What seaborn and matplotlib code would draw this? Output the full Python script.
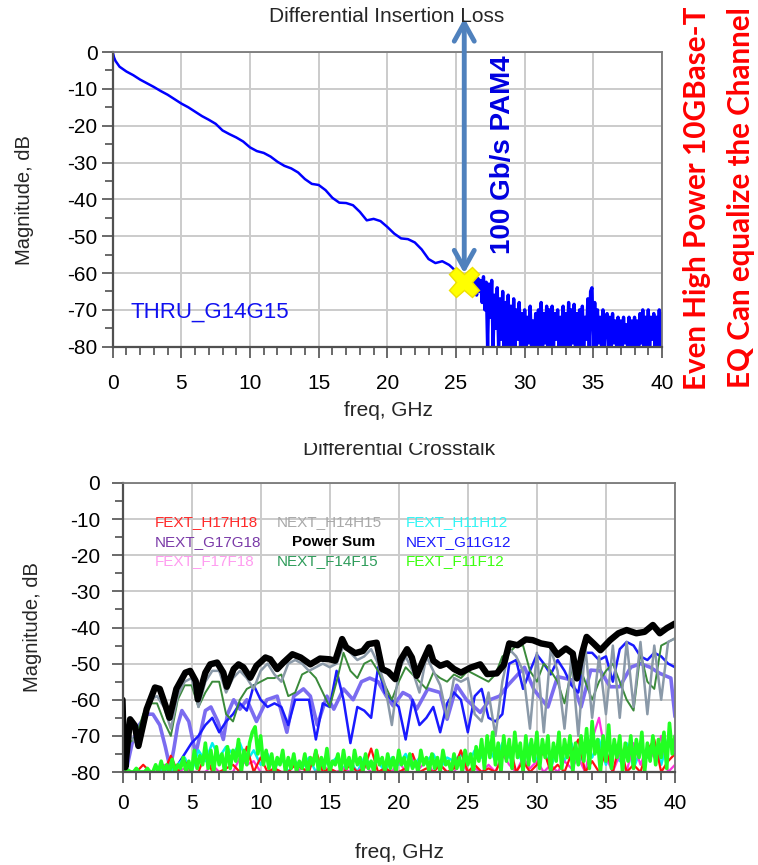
import numpy as np
import matplotlib
matplotlib.use('Agg')
import matplotlib.pyplot as plt
import seaborn as sns
from matplotlib.transforms import Bbox, TransformedBbox

# --- Data: differential insertion loss (top panel) ---
thru_freq = [0, 0.1, 0.2, 0.5, 1.0, 1.5, 2.0, 2.5, 3.0, 3.5, 4.0, 4.5, 5.0, 5.5, 6.0, 6.5,
             7.0, 7.5, 8.0, 8.5, 9.0, 9.5, 10.0, 10.5, 11.0, 11.5, 12.0, 12.5, 13.0, 13.5,
             14.0, 14.5, 15.0, 15.5, 16.0, 16.5, 17.0, 17.5, 18.0, 18.5, 19.0, 19.5, 20.0,
             20.5, 21.0, 21.5, 22.0, 22.5, 23.0, 23.5, 24.0, 24.5, 25.0, 25.5]
thru_db = [0, -1.5, -2.4, -4.0, -5.3, -6.3, -7.5, -8.5, -9.5, -10.6, -11.6, -12.8, -14.0,
           -15.0, -16.2, -17.4, -18.4, -19.5, -21.3, -22.3, -23.2, -24.3, -25.9, -26.9,
           -27.4, -28.4, -29.8, -30.9, -31.6, -32.7, -34.5, -35.8, -36.1, -37.5, -39.6,
           -40.9, -41.0, -41.6, -43.4, -45.7, -45.3, -45.9, -47.5, -49.3, -50.6, -50.8,
           -51.7, -53.6, -56.2, -57.3, -56.8, -57.8, -59.5, -61.5]
# noisy part, 26.0 .. 40.0 GHz every 0.1 GHz
thru_noise_db = [
    -61, -63, -60.5, -64, -62, -66, -61.5, -65, -62, -68,
    -61, -70, -62.5, -80, -63, -72, -62, -80, -66, -75,
    -64, -80, -67, -78, -65, -80, -68, -80, -66, -80,
    -69, -80, -67, -80, -70, -78, -68, -80, -71, -80,
    -70, -80, -72, -79, -69, -80, -73, -80, -71, -80,
    -70, -80, -68, -80, -71, -79, -69, -80, -70, -80,
    -69, -80, -71, -78, -70, -80, -72, -80, -69, -80,
    -71, -80, -68, -80, -70, -79, -68.5, -80, -71, -80,
    -70, -80, -69, -80, -72, -78, -67, -80, -65, -64,
    -80, -68, -80, -70, -79, -72, -80, -70, -80, -73,
    -71, -80, -72, -80, -71, -79, -73, -80, -72, -80,
    -73, -80, -72, -79, -74, -80, -72, -80, -73, -80,
    -72, -80, -73, -80, -71, -79, -70, -80, -72, -80,
    -70, -80, -72, -78, -71, -80, -72, -80, -70, -80,
    -71]
marker_freq = 25.6
marker_db = -62.4

# --- Data: differential crosstalk (bottom panel) ---
psum_freq = [0, 0.08, 0.2, 0.55, 0.9, 1.15, 1.75, 2.35, 2.7, 3.2, 3.4, 3.9, 4.55, 4.9, 5.3,
             5.45, 6.0, 6.35, 6.85, 7.3, 7.55, 8.05, 8.4, 8.75, 9.25, 9.7, 10.35, 10.7, 11.2,
             11.65, 12.3, 12.9, 13.6, 14.3, 15.0, 15.4, 15.9, 16.2, 16.85, 17.4, 17.8, 18.4,
             18.8, 19.25, 19.75, 20.1, 20.6, 20.95, 21.3, 21.7, 22.2, 22.5, 23.0, 23.5, 24.0,
             24.5, 25.2, 25.9, 26.4, 27.1, 27.6, 28.0, 28.6, 29.2, 29.7, 30.3, 31.0, 31.5,
             32.1, 32.6, 32.9, 33.3, 33.6, 34.1, 34.6, 35.3, 35.9, 36.5, 37.2, 37.8, 38.4,
             38.9, 39.4, 40.0]
psum_db = [-60, -72, -78.7, -65.4, -67.2, -72.8, -62.6, -56.6, -57, -62.6, -65, -57, -52.5,
           -52, -54.8, -59.9, -52.5, -50.2, -49.7, -52.5, -56.4, -51.5, -50.2, -51, -53.9,
           -50.6, -48.3, -48.8, -51.5, -49.7, -47.4, -48.3, -50.2, -48.6, -48.8, -49.2,
           -43.2, -45.5, -47.1, -46.5, -44.6, -44.2, -51.5, -52.3, -54.3, -49.2, -46, -48.3,
           -53.4, -49.7, -45.5, -49.2, -50.6, -49.9, -51.5, -52.5, -51.1, -50.2, -52.9,
           -52.7, -50.4, -44.4, -44.9, -43.3, -43.5, -44.4, -44.9, -47.6, -45.8, -47.2,
           -54.1, -46.7, -42.6, -44.4, -46.3, -43.5, -41.6, -40.7, -41.6, -41.2, -39.3,
           -41.6, -40.2, -38.9]

# NEXT traces sampled every 0.5 GHz (0 .. 40)
next_h14h15 = [-75, -70, -72, -66, -60, -59, -62, -68, -59, -55, -54, -62, -55, -52, -52, -58,
               -54, -52, -54, -57, -52, -50, -53, -55, -50, -49, -50, -52, -51, -50, -51, -50,
               -45, -47, -49, -48, -46, -50, -56, -67, -52, -48, -52, -58, -48, -52, -56, -65,
               -54, -55, -54, -64, -66, -58, -70, -55, -46, -48, -52, -68, -47, -69, -46, -52,
               -68, -48, -70, -45, -65, -48, -64, -45, -65, -44, -62, -44, -64, -45, -60, -44,
               -43]
next_f14f15 = [-80, -72, -70, -64, -61, -61, -66, -70, -60, -56, -56, -62, -58, -55, -55, -64,
               -66, -60, -57, -56, -55, -54, -54, -53, -59, -58, -53, -52, -54, -58, -62, -55,
               -47, -52, -54, -50, -49, -52, -56, -60, -55, -51, -53, -55, -57, -52.5, -54, -55,
               -53, -54, -52, -53, -54, -55, -53, -48, -47, -45, -45, -52, -55, -50, -52, -55,
               -61, -52, -50, -55, -60, -55, -52, -50, -55, -60, -63, -47, -55, -57, -45, -44,
               -43]
next_g11g12 = [-80, -80, -80, -80, -80, -80, -80, -80, -78, -75, -72, -70, -67, -65, -69, -66,
               -64, -61, -63, -56, -60, -62, -61, -62, -67, -60, -60, -60, -71, -61, -62, -52,
               -60, -72, -62, -63, -65, -51, -58, -60, -62, -71, -60, -67, -65, -62, -69, -61,
               -58, -60, -69, -59, -57, -65, -66, -64, -50, -49, -57, -52, -47.5, -50, -53, -49,
               -52, -56, -58, -47, -47, -49, -48, -55, -46, -44, -45, -48, -49, -47, -48, -50,
               -51]
next_g17g18_freq = [0.3, 0.7, 1.2, 1.8, 2.2, 2.7, 3.1, 3.45, 3.7, 4.0, 4.3, 4.8, 5.3, 5.6, 6.0,
                    6.4, 6.9, 7.3, 7.6, 8.05, 8.5, 9.0, 9.7, 10.45, 11.2, 11.9, 12.4, 13.1, 13.6,
                    14.1, 14.8, 15.3, 16.0, 16.7, 17.3, 17.9, 18.5, 19.1, 19.6, 20.3, 20.8, 21.3,
                    22.1, 23.0, 23.5, 24.2, 24.9, 25.9, 26.6, 27.3, 27.9, 29.1, 29.8, 30.8, 31.5,
                    32.5, 33.2, 33.9, 34.6, 35.3, 36.0, 36.8, 37.5, 38.2, 38.9, 39.7, 40.0]
next_g17g18_db = [-79, -72, -67, -64, -64, -67, -73, -79, -74, -67, -63, -66, -75, -70, -63, -62,
                  -66, -71, -64, -60, -62.6, -60, -66, -60, -59, -69, -59, -57, -59, -67, -59,
                  -62.6, -57, -60, -55, -54, -55, -59, -61.7, -58, -59, -62.6, -57, -58, -65.4,
                  -56, -60, -63.5, -60, -59, -56, -51, -57.3, -62, -53.6, -54.5, -62, -51.8, -52,
                  -56.4, -56.4, -51, -50, -51, -52.7, -54, -64.7]

# FEXT traces
fext_f11f12 = [  # every 0.2 GHz
    -80, -80, -79.5, -80, -80, -79, -80, -80, -80, -79, -80, -80, -78,
    -80, -77, -80, -78, -80, -76.5, -80, -78, -79, -76, -80, -77,
    -80, -74, -79, -75.5, -78, -72, -79, -74, -80, -73, -78,
    -75, -80, -73, -79, -74, -77, -71, -80, -74, -78,
    -72, -69, -67.5, -75, -70, -78, -74,
    -79, -75, -80, -76, -78, -74, -80, -76, -79, -75, -80, -77, -79,
    -75, -80, -76, -78, -74, -80, -76, -79, -73.5, -80, -77, -78, -75, -80, -74,
    -79, -76, -80, -74, -78, -76, -80, -75, -79, -77, -80, -74, -78, -76, -80, -75, -79, -76, -80, -74,
    -78, -76, -80, -75, -79, -77, -80, -74, -78, -76, -80, -75, -79, -76, -80, -74, -78, -77, -80, -75,
    -79, -76, -80, -74, -78, -75, -80, -73, -77, -71, -79, -70, -76, -69, -78,
    -72, -80, -70, -77, -71, -79, -69, -76, -72, -80, -70, -78, -71, -77, -69,
    -79, -71, -76, -70, -80, -72, -77, -69, -79, -71, -76, -70, -80, -72, -78,
    -70, -77, -68, -79, -66, -75, -71, -80, -70, -77, -67, -79, -71, -76, -70,
    -80, -72, -77, -70, -79, -71, -76, -69, -80, -72, -77, -70, -78, -71, -76, -69, -79, -66.5, -75, -70]
fext_h11h12 = [  # every 0.5 GHz
    -80, -80, -80, -80, -80, -80, -79, -80, -78, -76, -80, -74, -77, -72, -76, -73,
    -75, -72, -77, -74, -78, -75, -79, -76, -80, -77, -79, -76, -80, -77, -78, -76,
    -79, -77, -80, -76, -78, -77, -80, -76, -78, -75, -79, -76, -77, -75, -79, -76,
    -77, -75, -78, -74, -76, -73, -77, -72, -76, -73, -78, -72, -77, -74, -79, -73,
    -77, -72, -78, -74, -76, -71, -78, -73, -77, -72, -79, -74, -76, -72, -78, -71, -73]
fext_h17h18 = [
    -80, -80, -80, -78, -80, -80, -80, -75.5, -80, -77, -80, -80, -75, -80, -80, -79,
    -78, -80, -73, -80, -76, -80, -79, -80, -80, -78, -79, -80, -74, -80, -79, -80,
    -80, -78, -80, -79, -73.5, -80, -79, -80, -80, -79, -75, -80, -79, -80, -78, -80,
    -79, -74, -80, -78, -80, -79, -80, -76, -72, -80, -77, -80, -78, -74, -80, -78,
    -80, -75, -71, -80, -77, -80, -74, -80, -72, -80, -78, -80, -74, -71, -80, -77, -75]
fext_f17f18 = [
    -80, -80, -80, -80, -80, -80, -78, -80, -80, -79, -80, -80, -80, -78, -80, -80,
    -80, -76, -78, -77, -80, -80, -79, -80, -80, -80, -79, -80, -80, -78, -80, -80,
    -79, -80, -80, -78, -80, -80, -79, -80, -77, -80, -76, -79, -77, -80, -78, -80,
    -80, -77, -80, -79, -80, -78, -80, -75, -78, -80, -76, -79, -77, -80, -78, -80,
    -77, -79, -76, -80, -71, -65, -76, -80, -75, -80, -72, -78, -73, -76, -70, -80, -78]

legend_rows = [
    [('FEXT_H17H18', '#ff2a2a', 'normal'), ('NEXT_H14H15', '#a9a9a9', 'normal'), ('FEXT_H11H12', '#33f5f5', 'normal')],
    [('NEXT_G17G18', '#7a3aa8', 'normal'), ('Power Sum', 'black', 'bold'), ('NEXT_G11G12', '#1a1aff', 'normal')],
    [('FEXT_F17F18', '#ff9cf0', 'normal'), ('NEXT_F14F15', '#2e9c5a', 'normal'), ('FEXT_F11F12', '#3cff10', 'normal')],
]

# --- Style ---
sns.set_theme(style='whitegrid')
plt.rcParams['font.family'] = ['Liberation Sans', 'DejaVu Sans']
plt.rcParams['axes.unicode_minus'] = False
plt.rcParams['path.simplify'] = False

fig = plt.figure(figsize=(7.58, 8.65), dpi=100)
W, H = 758, 865


def px_axes(x0, y0, x1, y1):
    return fig.add_axes([x0 / W, 1 - y1 / H, (x1 - x0) / W, (y1 - y0) / H])


def style_axes(ax, ypad):
    ax.set_xlim(0, 40)
    ax.set_ylim(-80, 0)
    ax.set_xticks(range(0, 41, 5))
    ax.set_xticks(range(0, 41, 1), minor=True)
    ax.set_yticks(range(-80, 1, 10))
    ax.set_yticks(range(-80, 1, 5), minor=True)
    ax.grid(which='major', color='#cbcbcb', linewidth=1.4)
    ax.grid(which='minor', visible=False)
    ax.tick_params(which='both', direction='out', bottom=True, left=True,
                   color='#505050', labelcolor='black', labelsize=15)
    ax.tick_params(which='major', length=8, width=1.2)
    ax.tick_params(which='minor', length=6, width=1.2)
    ax.tick_params(axis='y', pad=ypad)
    ax.set_xlabel('')
    ax.set_ylabel('')
    for side in ['left', 'bottom']:
        ax.spines[side].set_color('#505050')
        ax.spines[side].set_linewidth(1.6)
    for side in ['top', 'right']:
        ax.spines[side].set_color('#7a7a7a')
        ax.spines[side].set_linewidth(1.3)


def trace(ax, x, y, color, lw):
    sns.lineplot(x=x, y=y, ax=ax, color=color, linewidth=lw, sort=False, estimator=None)


# --- Top panel ---
ax1 = px_axes(112.7, 52, 662, 346.7)
noise_freq = np.round(np.arange(26.0, 40.05, 0.1), 1)[:len(thru_noise_db)]
trace(ax1, thru_freq + [26.0], thru_db + [thru_noise_db[0]], '#0000ff', 1.8)
trace(ax1, noise_freq, thru_noise_db, '#0000ff', 2.4)
style_axes(ax1, 3)
ax1.tick_params(axis='x', pad=12)
ax1.text(1.3, -70.6, 'THRU_G14G15', color='#1010f0', fontsize=16, ha='left', va='center')
ax1.annotate('', xy=(marker_freq, -60.1), xytext=(marker_freq, 9.2),
             arrowprops=dict(arrowstyle='<->,head_length=0.65,head_width=0.36',
                             color='#4f81bd', lw=3.5, mutation_scale=20,
                             shrinkA=0, shrinkB=0),
             annotation_clip=False)
ax1.plot([marker_freq], [marker_db], marker='X', markersize=22, color='#ffff00',
         markeredgecolor='#eee000', zorder=5, clip_on=False)
ax1.text(28.4, -27.9, '100 Gb/s PAM4', rotation=90, color='#0000e0', fontsize=20,
         fontweight='bold', ha='center', va='center')

fig.text(387 / W, 1 - 17 / H, 'Differential Insertion Loss', fontsize=15,
         ha='center', va='center')
fig.text(25 / W, 1 - 200 / H, 'Magnitude, dB', fontsize=14.5, rotation=90,
         ha='center', va='center')
fig.text(388 / W, 1 - 410 / H, 'freq, GHz', fontsize=15, ha='center', va='center')

# --- Bottom panel ---
ax2 = px_axes(122.5, 483, 675, 772)
half_grid = np.arange(0, 40.01, 0.5)
fifth_grid = np.linspace(0, 40, len(fext_f11f12))
trace(ax2, next_g17g18_freq, next_g17g18_db, '#7b6cf0', 2.6)
trace(ax2, half_grid, next_g11g12, '#1a1aff', 1.8)
trace(ax2, half_grid, next_f14f15, '#3a8a3a', 1.4)
trace(ax2, half_grid, next_h14h15, '#8a99a8', 1.8)
trace(ax2, half_grid, fext_h11h12, '#00f0f0', 1.8)
trace(ax2, half_grid, fext_f17f18, '#ff33dd', 1.6)
trace(ax2, half_grid, fext_h17h18, '#ff1010', 1.6)
trace(ax2, fifth_grid, fext_f11f12, '#22ff22', 2.6)
trace(ax2, psum_freq, psum_db, 'black', 4.6)
style_axes(ax2, 8)
ax2.tick_params(axis='x', pad=8)

col_x = [2.35, 11.2, 20.5]
row_y = [-10.7, -16.3, -21.6]
for r, row in enumerate(legend_rows):
    for c, (name, col, weight) in enumerate(row):
        x = col_x[c] + (1.1 if weight == 'bold' else 0)
        ax2.text(x, row_y[r], name, color=col, fontsize=11, fontweight=weight,
                 ha='left', va='center')

t2 = fig.text(399 / W, 1 - 455 / H, 'Differential Crosstalk', fontsize=15,
              ha='center', va='baseline')
t2.set_clip_on(True)
t2.set_clip_box(TransformedBbox(Bbox([[0, 0], [1, 1 - 443 / H]]), fig.transFigure))
fig.text(33 / W, 1 - 627 / H, 'Magnitude, dB', fontsize=14.5, rotation=90,
         ha='center', va='center')
fig.text(399 / W, 1 - 853 / H, 'freq, GHz', fontsize=15, ha='center', va='center')

# --- Side note ---
fig.text(697 / W, 1 - 198 / H, 'Even High Power 10GBase-T', rotation=90, color='#ff0000',
         fontsize=21.3, fontweight='bold', family=['Lato', 'DejaVu Sans'],
         ha='center', va='center')
fig.text(741 / W, 1 - 198 / H, 'EQ Can equalize the Channel', rotation=90, color='#ff0000',
         fontsize=21.3, fontweight='bold', family=['Lato', 'DejaVu Sans'],
         ha='center', va='center')

fig.savefig('out.png', dpi=100)
